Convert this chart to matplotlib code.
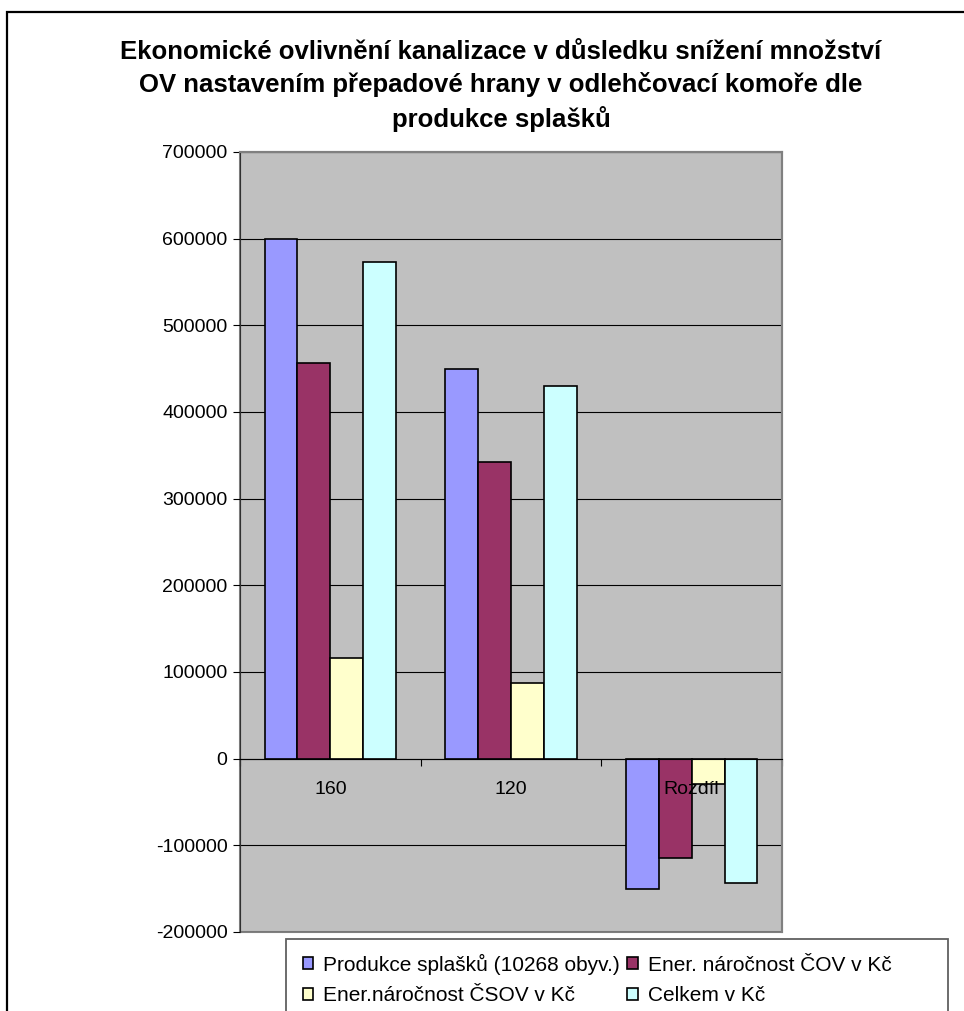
import matplotlib
matplotlib.use("Agg")
import matplotlib.pyplot as plt
from matplotlib.patches import Patch, Rectangle
from matplotlib.ticker import FuncFormatter

plt.rcParams['font.family'] = ['Liberation Sans', 'DejaVu Sans']
plt.rcParams['axes.unicode_minus'] = False

# data
categories = ['160', '120', 'Rozdíl']
series_names = ['Produkce splašků (10268 obyv.)', 'Ener. náročnost ČOV v Kč',
                'Ener.náročnost ČSOV v Kč', 'Celkem v Kč']
produkce = [600000, 450000, -150000]
cov = [457000, 342500, -114500]
csov = [116500, 87500, -29000]
celkem = [573500, 430000, -143500]
colors = ['#9999FF', '#993366', '#FFFFCC', '#CCFFFF']

W, H = 964, 1011
fig = plt.figure(figsize=(W / 100, H / 100), dpi=100)

# outer chart border (only left and top visible, rest is cropped)
fig.patches.append(Rectangle((7 / W, -0.1), 1.2, 1 - 12 / H + 0.1, transform=fig.transFigure,
                             fill=False, edgecolor='black', linewidth=1.6))

ax = fig.add_axes([240 / W, 1 - 932 / H, (782 - 240) / W, (932 - 152) / H])
ax.set_facecolor('#C0C0C0')
ax.patch.set_edgecolor('#808080')
ax.patch.set_linewidth(1.5)

w = 1 / 5.5
data = [produkce, cov, csov, celkem]
for k, vals in enumerate(data):
    xs = [i + (k - 1.5) * w for i in range(len(categories))]
    ax.bar(xs, vals, width=w, color=colors[k], edgecolor='black', linewidth=1.2, zorder=3)

ax.set_xlim(-0.5, 2.5)
ax.set_ylim(-200000, 700000)
ax.set_yticks(range(-200000, 700001, 100000))
ax.yaxis.set_major_formatter(FuncFormatter(lambda v, p: '%d' % v))
ax.grid(axis='y', color='black', linewidth=0.8, zorder=1)
ax.set_axisbelow(True)

ax.spines['bottom'].set_position(('data', 0))
ax.spines['bottom'].set_zorder(4)
for s in ['top', 'right']:
    ax.spines[s].set_color('#808080')
    ax.spines[s].set_linewidth(1.5)
ax.spines['left'].set_color('#303030')
ax.spines['bottom'].set_color('black')

ax.set_xticks([-0.5, 0.5, 1.5, 2.5])
ax.set_xticklabels([])
ax.tick_params(axis='x', direction='out', length=5, color='black')
ax.tick_params(axis='y', direction='out', length=5, labelsize=14, pad=4)

for i, c in enumerate(categories):
    ax.annotate(c, (i, 0), xytext=(0, -31), textcoords='offset pixels',
                ha='center', va='center', fontsize=14, zorder=5)

title = ('Ekonomické ovlivnění kanalizace v důsledku snížení množství\n'
         'OV nastavením přepadové hrany v odlehčovací komoře dle\n'
         'produkce splašků')
fig.text(501 / W, 1 - 86 / H, title, ha='center', va='center', fontsize=18.5,
         fontweight='bold', linespacing=1.42)

# legend with a manually drawn frame that runs off the bottom
fig.patches.append(Rectangle((286 / W, -0.05), (948 - 286) / W, 1 - 939 / H + 0.05,
                             transform=fig.transFigure, facecolor='white',
                             edgecolor='#606060', linewidth=1.3, zorder=0))
handles = [Patch(facecolor=c, edgecolor='black', linewidth=1.2) for c in colors]
order = [0, 2, 1, 3]  # legend fills by column, reference reads by row
leg = fig.legend([handles[i] for i in order], [series_names[i] for i in order],
                 loc='upper left', bbox_to_anchor=(288 / W, 1 - 939 / H), ncol=2,
                 frameon=False, fontsize=15, handlelength=0.5, handleheight=0.5,
                 handletextpad=0.5, columnspacing=0.35, labelspacing=0.55, borderpad=0.2)

fig.savefig('out.png', dpi=100)
